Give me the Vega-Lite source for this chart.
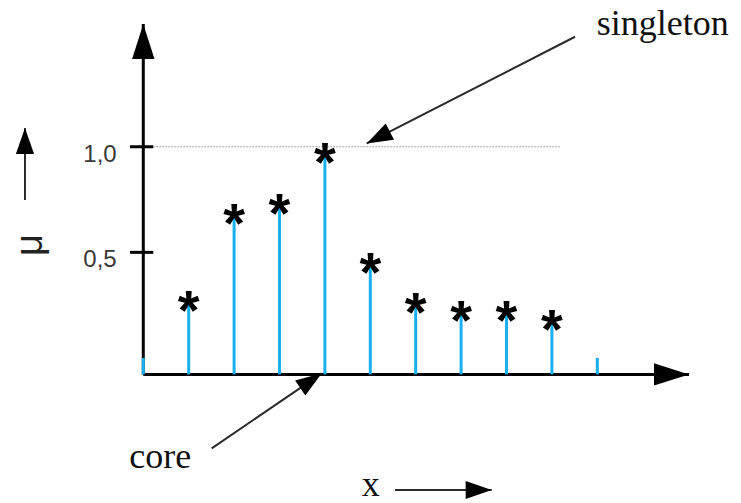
{
  "$schema": "https://vega.github.io/schema/vega-lite/v6.json",
  "width": 741,
  "height": 503,
  "padding": 0,
  "autosize": {"type": "none"},
  "background": "white",
  "view": {"stroke": null},
  "config": {"font": "Liberation Sans"},
  "datasets": {
    "stems": [
      {"x": 0, "mu": 0},
      {"x": 1, "mu": 0.28},
      {"x": 2, "mu": 0.69},
      {"x": 3, "mu": 0.74},
      {"x": 4, "mu": 0.98},
      {"x": 5, "mu": 0.46},
      {"x": 6, "mu": 0.27},
      {"x": 7, "mu": 0.23},
      {"x": 8, "mu": 0.23},
      {"x": 9, "mu": 0.19},
      {"x": 10, "mu": 0}
    ],
    "axisLines": [
      {"axis": "mu", "x": 0, "y": -0.078, "x2": 0, "y2": 1.581, "heading": 0},
      {"axis": "x", "x": 0, "y": -0.078, "x2": 12.02, "y2": -0.078, "heading": 90}
    ],
    "yTicks": [
      {"mu": 1.0, "label": "1,0"},
      {"mu": 0.5, "label": "0,5"}
    ],
    "arrows": [
      {"name": "singleton", "x": 9.509, "y": 1.521, "x2": 4.921, "y2": 1.016, "heading": 243},
      {"name": "core", "x": 1.507, "y": -0.428, "x2": 3.93, "y2": -0.073, "heading": 55.7},
      {"name": "x", "x": 5.544, "y": -0.6255, "x2": 7.674, "y2": -0.6255, "heading": 90},
      {"name": "mu", "x": -2.606, "y": 0.748, "x2": -2.606, "y2": 1.0885, "heading": 0}
    ],
    "notes": [
      {"text": "singleton", "x": 9.987, "y": 1.529},
      {"text": "core", "x": -0.308, "y": -0.523},
      {"text": "x", "x": 4.811, "y": -0.652}
    ],
    "yTitle": [
      {"text": "μ", "x": -2.474, "y": 0.535}
    ]
  },
  "layer": [
    {
      "description": "reference line at mu = 1",
      "data": {"name": "yTicks"},
      "transform": [{"filter": "datum.mu == 1"}],
      "mark": {"type": "rule", "color": "#a8a8a8", "strokeWidth": 1, "strokeDash": [2, 1]},
      "encoding": {
        "x": {"datum": 0.22, "type": "quantitative", "scale": {"domain": [-3.156, 13.165], "nice": false, "zero": false}, "axis": null},
        "x2": {"datum": 9.18},
        "y": {"field": "mu", "type": "quantitative", "scale": {"domain": [-0.687, 1.695], "nice": false, "zero": false}, "axis": null}
      }
    },
    {
      "description": "axis lines",
      "data": {"name": "axisLines"},
      "mark": {"type": "rule", "color": "black", "strokeWidth": 3},
      "encoding": {
        "x": {"field": "x", "type": "quantitative", "scale": {"domain": [-3.156, 13.165], "nice": false, "zero": false}, "axis": null},
        "x2": {"field": "x2"},
        "y": {"field": "y", "type": "quantitative", "scale": {"domain": [-0.687, 1.695], "nice": false, "zero": false}, "axis": null},
        "y2": {"field": "y2"}
      }
    },
    {
      "description": "axis arrowheads",
      "data": {"name": "axisLines"},
      "mark": {"type": "point", "shape": "M0,0L0.32,1L-0.32,1Z", "filled": true, "color": "black", "opacity": 1, "size": 4900, "strokeWidth": 0},
      "encoding": {
        "x": {"field": "x2", "type": "quantitative", "scale": {"domain": [-3.156, 13.165], "nice": false, "zero": false}, "axis": null},
        "y": {"field": "y2", "type": "quantitative", "scale": {"domain": [-0.687, 1.695], "nice": false, "zero": false}, "axis": null},
        "angle": {"field": "heading", "type": "quantitative", "scale": null}
      }
    },
    {
      "description": "y tick marks crossing the axis",
      "data": {"name": "yTicks"},
      "mark": {"type": "rule", "color": "black", "strokeWidth": 3},
      "encoding": {
        "x": {"datum": -0.293, "type": "quantitative", "scale": {"domain": [-3.156, 13.165], "nice": false, "zero": false}, "axis": null},
        "x2": {"datum": 0.22},
        "y": {"field": "mu", "type": "quantitative", "scale": {"domain": [-0.687, 1.695], "nice": false, "zero": false}, "axis": null}
      }
    },
    {
      "description": "y tick labels",
      "data": {"name": "yTicks"},
      "mark": {"type": "text", "align": "right", "baseline": "alphabetic", "dy": 15, "fontSize": 24, "color": "#3a3a3a", "font": "Liberation Sans"},
      "encoding": {
        "x": {"datum": -0.586, "type": "quantitative", "scale": {"domain": [-3.156, 13.165], "nice": false, "zero": false}, "axis": null},
        "y": {"field": "mu", "type": "quantitative", "scale": {"domain": [-0.687, 1.695], "nice": false, "zero": false}, "axis": null},
        "text": {"field": "label"}
      }
    },
    {
      "description": "membership stems from the baseline",
      "data": {"name": "stems"},
      "mark": {"type": "rule", "color": "#19b0ec", "strokeWidth": 3},
      "encoding": {
        "x": {"field": "x", "type": "quantitative", "scale": {"domain": [-3.156, 13.165], "nice": false, "zero": false}, "axis": null},
        "y": {"field": "mu", "type": "quantitative", "scale": {"domain": [-0.687, 1.695], "nice": false, "zero": false}, "axis": null},
        "y2": {"datum": -0.078}
      }
    },
    {
      "description": "asterisk markers on non-zero memberships",
      "data": {"name": "stems"},
      "transform": [{"filter": "datum.mu > 0"}],
      "mark": {"type": "text", "text": "*", "align": "center", "baseline": "alphabetic", "dy": 30, "fontSize": 56, "fontWeight": "bold", "color": "black", "font": "Liberation Sans"},
      "encoding": {
        "x": {"field": "x", "type": "quantitative", "scale": {"domain": [-3.156, 13.165], "nice": false, "zero": false}, "axis": null},
        "y": {"field": "mu", "type": "quantitative", "scale": {"domain": [-0.687, 1.695], "nice": false, "zero": false}, "axis": null}
      }
    },
    {
      "description": "annotation arrow shafts",
      "data": {"name": "arrows"},
      "mark": {"type": "rule", "color": "#2a2a2a", "strokeWidth": 2},
      "encoding": {
        "x": {"field": "x", "type": "quantitative", "scale": {"domain": [-3.156, 13.165], "nice": false, "zero": false}, "axis": null},
        "x2": {"field": "x2"},
        "y": {"field": "y", "type": "quantitative", "scale": {"domain": [-0.687, 1.695], "nice": false, "zero": false}, "axis": null},
        "y2": {"field": "y2"}
      }
    },
    {
      "description": "annotation arrowheads",
      "data": {"name": "arrows"},
      "mark": {"type": "point", "shape": "M0,0L0.35,1L-0.35,1Z", "filled": true, "color": "black", "opacity": 1, "size": 2704, "strokeWidth": 0},
      "encoding": {
        "x": {"field": "x2", "type": "quantitative", "scale": {"domain": [-3.156, 13.165], "nice": false, "zero": false}, "axis": null},
        "y": {"field": "y2", "type": "quantitative", "scale": {"domain": [-0.687, 1.695], "nice": false, "zero": false}, "axis": null},
        "angle": {"field": "heading", "type": "quantitative", "scale": null}
      }
    },
    {
      "description": "annotation texts",
      "data": {"name": "notes"},
      "mark": {"type": "text", "align": "left", "baseline": "alphabetic", "fontSize": 36, "color": "#111", "font": "Liberation Serif"},
      "encoding": {
        "x": {"field": "x", "type": "quantitative", "scale": {"domain": [-3.156, 13.165], "nice": false, "zero": false}, "axis": null},
        "y": {"field": "y", "type": "quantitative", "scale": {"domain": [-0.687, 1.695], "nice": false, "zero": false}, "axis": null},
        "text": {"field": "text"}
      }
    },
    {
      "description": "membership axis title",
      "data": {"name": "yTitle"},
      "mark": {"type": "text", "align": "center", "baseline": "middle", "angle": 270, "fontSize": 38, "color": "#222", "font": "Liberation Sans"},
      "encoding": {
        "x": {"field": "x", "type": "quantitative", "scale": {"domain": [-3.156, 13.165], "nice": false, "zero": false}, "axis": null},
        "y": {"field": "y", "type": "quantitative", "scale": {"domain": [-0.687, 1.695], "nice": false, "zero": false}, "axis": null},
        "text": {"field": "text"}
      }
    }
  ]
}
